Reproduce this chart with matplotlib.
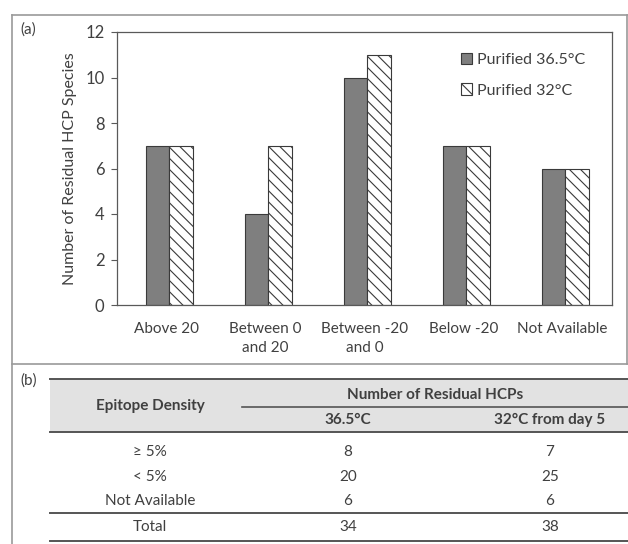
import matplotlib
matplotlib.use("Agg")
import matplotlib.pyplot as plt
import numpy as np
from matplotlib.lines import Line2D
from matplotlib.patches import Rectangle

plt.rcParams["font.family"] = ["Lato", "DejaVu Sans"]
plt.rcParams["hatch.linewidth"] = 0.8

# panel (a) data
categories = ["Above 20", "Between 0\nand 20", "Between -20\nand 0", "Below -20", "Not Available"]
purified_365 = [7, 4, 10, 7, 6]
purified_32 = [7, 7, 11, 7, 6]
series_labels = ["Purified 36.5°C", "Purified 32°C"]
y_ticks = [0, 2, 4, 6, 8, 10, 12]

# panel (b) data
density_labels = ["≥ 5%", "< 5%", "Not Available", "Total"]
hcp_365 = [8, 20, 6, 34]
hcp_32 = [7, 25, 6, 38]
table_header = "Number of Residual HCPs"
col_labels = ["Epitope Density", "36.5°C", "32°C from day 5"]

W, H = 628, 544
TXT = "#404040"
FS = 11


def fx(x):
    return x / W


def fy(y):
    return 1 - y / H


def hline(fig, x0, x1, y, color="#555555", lw=1.4):
    fig.add_artist(Line2D([fx(x0), fx(x1)], [fy(y), fy(y)], color=color, lw=lw,
                          transform=fig.transFigure))


def vline(fig, x, y0, y1, color="#9a9a9a", lw=1.2):
    fig.add_artist(Line2D([fx(x), fx(x)], [fy(y0), fy(y1)], color=color, lw=lw,
                          transform=fig.transFigure))


fig = plt.figure(figsize=(W / 100, H / 100), dpi=100)

# outer panel boxes
hline(fig, 12, 628, 15, color="#9a9a9a", lw=1.2)
hline(fig, 12, 628, 364, color="#9a9a9a", lw=1.2)
vline(fig, 12, 15, 544)
vline(fig, 627, 15, 364)

# ---- panel (a): bar chart
ax = fig.add_axes([fx(117), fy(305), fx(612) - fx(117), fy(32) - fy(305)])
x = np.arange(len(categories))
w = 0.24
ax.bar(x - w / 2 + 0.03, purified_365, w, color="#7f7f7f", edgecolor="#3a3a3a", lw=0.8,
       label=series_labels[0])
ax.bar(x + w / 2 + 0.03, purified_32, w, color="white", edgecolor="#3a3a3a", lw=0.8,
       hatch="\\\\\\", label=series_labels[1])

ax.set_xlim(-0.5, len(categories) - 0.5)
ax.set_ylim(0, 12)
ax.set_yticks(y_ticks)
ax.set_xticks(x)
ax.set_xticklabels(categories, fontsize=FS, color=TXT, linespacing=1.45)
ax.tick_params(axis="x", length=0, pad=12)
ax.tick_params(axis="y", length=4, width=0.8, color="#595959", labelsize=12,
               labelcolor=TXT, pad=5)
for s in ax.spines.values():
    s.set_color("#595959")
    s.set_linewidth(0.9)
ax.set_ylabel("Number of Residual HCP Species", fontsize=11.5, color=TXT, labelpad=6)

leg = ax.legend(loc="upper right", bbox_to_anchor=(0.975, 0.975), frameon=False,
                fontsize=11.5, handlelength=0.7, handleheight=0.7, handletextpad=0.3,
                labelspacing=1.0)
for t in leg.get_texts():
    t.set_color(TXT)

fig.text(fx(20), fy(30), "(a)", fontsize=FS, color=TXT, va="center", ha="left")

# ---- panel (b): table
fig.text(fx(20), fy(381), "(b)", fontsize=FS, color=TXT, va="center", ha="left")
fig.add_artist(Rectangle((fx(50), fy(432)), fx(628) - fx(50), fy(379) - fy(432),
                         transform=fig.transFigure, facecolor="#e2e2e2", edgecolor="none"))
hline(fig, 50, 628, 379)
hline(fig, 242, 628, 407, lw=1.2)
hline(fig, 50, 628, 432)
hline(fig, 50, 628, 513)
hline(fig, 50, 628, 541)

col_x = [150, 348, 550]
fig.text(fx(435), fy(395), table_header, fontsize=FS, fontweight="bold", color=TXT,
         ha="center", va="center")
fig.text(fx(col_x[0]), fy(406), col_labels[0], fontsize=FS, fontweight="bold", color=TXT,
         ha="center", va="center")
for cx, lab in zip(col_x[1:], col_labels[1:]):
    fig.text(fx(cx), fy(420), lab, fontsize=FS, fontweight="bold", color=TXT,
             ha="center", va="center")

row_y = [452, 477, 501, 527]
for ry, lab, v1, v2 in zip(row_y, density_labels, hcp_365, hcp_32):
    fig.text(fx(col_x[0]), fy(ry), lab, fontsize=FS, color=TXT, ha="center", va="center")
    fig.text(fx(col_x[1]), fy(ry), str(v1), fontsize=FS, color=TXT, ha="center", va="center")
    fig.text(fx(col_x[2]), fy(ry), str(v2), fontsize=FS, color=TXT, ha="center", va="center")

fig.savefig("out.png", dpi=100)
